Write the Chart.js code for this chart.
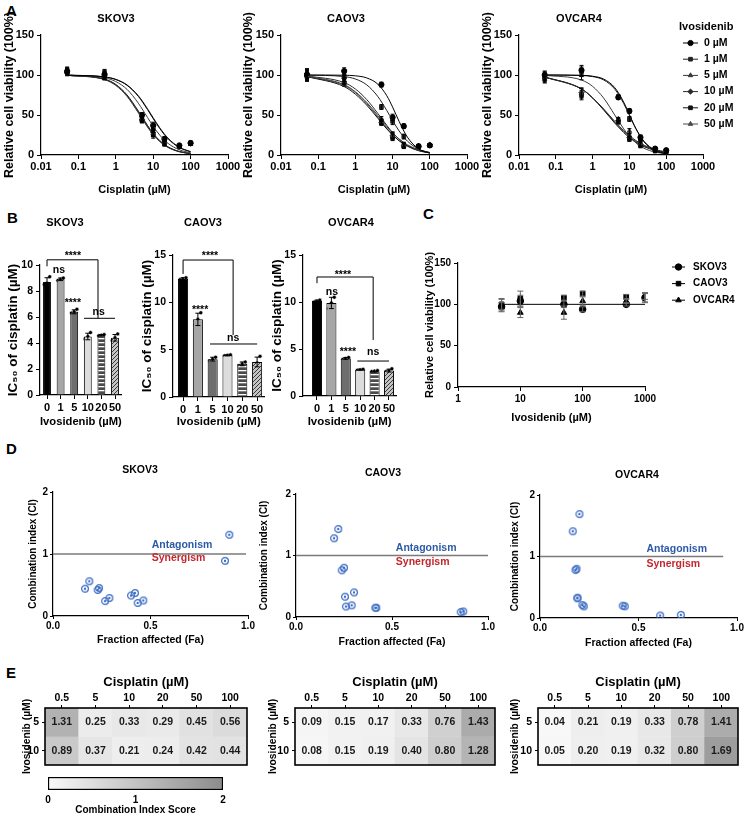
<!DOCTYPE html>
<html>
<head>
<meta charset="utf-8">
<title>Ivosidenib and cisplatin</title>
<script src="https://cdn.jsdelivr.net/npm/chart.js@4.4.1/dist/chart.umd.min.js"></script>
<style>
  html, body { margin: 0; padding: 0; background: #fff; }
  body { position: relative; width: 746px; height: 817px; overflow: hidden; font-family: 'Liberation Sans', 'DejaVu Sans', sans-serif; }
  canvas { position: absolute; }
  .tag { position: absolute; font-weight: bold; font-size: 15px; line-height: 15px; }
</style>
</head>
<body>
<div class="tag" style="left:6px;top:3px">A</div>
<div class="tag" style="left:7px;top:210px">B</div>
<div class="tag" style="left:423px;top:206px">C</div>
<div class="tag" style="left:6px;top:441px">D</div>
<div class="tag" style="left:6px;top:665px">E</div>

<canvas id="a1"></canvas><canvas id="a2"></canvas><canvas id="a3"></canvas>
<canvas id="b1"></canvas><canvas id="b2"></canvas><canvas id="b3"></canvas>
<canvas id="c1"></canvas>
<canvas id="d1"></canvas><canvas id="d2"></canvas><canvas id="d3"></canvas>
<canvas id="e1"></canvas><canvas id="e2"></canvas><canvas id="e3"></canvas>
<canvas id="ebar"></canvas>

<script>
// ---------- data ----------
const doseLabels = ['0', '1', '5', '10', '20', '50'];        // ivosidenib, µM
const doseX = [0.05, 0.5, 5, 10, 20, 50, 100];              // cisplatin, µM
const fitX = [0.05, 0.5, 1, 2, 4, 7, 10, 15, 25, 50, 100];
const cisTicks = [0.01, 0.1, 1, 10, 100, 1000];

// A - SKOV3 fitted curves (one per ivosidenib dose)
const skovFit0 = [99.9, 97.6, 94.3, 87.1, 73.3, 57.0, 45.5, 33.0, 20.2, 9.3, 4.0];
const skovFit1 = [99.9, 97.7, 94.6, 87.6, 74.1, 58.0, 46.6, 34.0, 21.0, 9.7, 4.2];
const skovFit5 = [99.8, 96.5, 91.8, 82.0, 64.8, 47.1, 35.9, 24.8, 14.5, 6.5, 2.7];
const skovFit10 = [99.7, 94.6, 87.6, 74.2, 53.8, 36.0, 26.1, 17.3, 9.7, 4.2, 1.7];
const skovFit20 = [99.7, 94.9, 88.2, 75.0, 55.0, 37.2, 27.0, 18.0, 10.2, 4.4, 1.8];
const skovFit50 = [99.6, 94.2, 86.9, 73.2, 52.6, 35.0, 25.3, 16.7, 9.3, 4.0, 1.6];
const skovPts0 = [104, 101, 50, 37, 20, 12, 15];
const skovPts1 = [105, 100, 48, 35, 19, 11, 15];
const skovPts5 = [103, 102, 46, 32, 17, 11, 14];
const skovPts10 = [106, 99, 44, 28, 15, 10, 14];
const skovPts20 = [104, 100, 43, 25, 14, 11, 15];
const skovPts50 = [105, 99, 45, 27, 16, 10, 14];
const skovErr = [4, 5, 3, 4, 3, 1, 2];

// A - CAOV3
const caovFit0 = [100, 99.7, 99.0, 96.4, 88.6, 74.0, 59.9, 41.9, 22.3, 7.6, 2.3];
const caovFit1 = [99.9, 98.0, 95.0, 87.8, 73.2, 55.5, 43.1, 30.0, 17.4, 7.4, 2.9];
const caovFit5 = [98.5, 88.0, 79.0, 66.0, 49.5, 35.5, 27.5, 20.0, 12.8, 6.5, 3.2];
const caovFit10 = [99.0, 90.5, 82.5, 69.5, 52.0, 37.0, 28.0, 19.8, 12.0, 5.8, 2.8];
const caovFit20 = [98.0, 85.5, 76.0, 62.5, 46.0, 32.5, 25.0, 17.8, 11.2, 5.6, 2.7];
const caovFit50 = [98.3, 87.0, 78.0, 64.5, 47.5, 33.5, 25.5, 17.8, 11.0, 5.3, 2.5];
const caovPts0 = [100, 105, 88, 47, 36, 11, 12];
const caovPts1 = [101, 98, 60, 42, 23, 11, 12];
const caovPts5 = [99, 93, 45, 25, 13, 11, 12];
const caovPts10 = [102, 96, 41, 24, 12, 11, 13];
const caovPts20 = [98, 90, 40, 22, 11, 10, 12];
const caovPts50 = [100, 92, 42, 23, 12, 11, 12];
const caovErr = [6, 4, 3, 4, 3, 1, 1];

// A - OVCAR4
const ovFit0 = [100, 99.6, 98.5, 94.9, 84.2, 66.0, 50.5, 32.9, 16.4, 5.3, 1.6];
const ovFit1 = [100, 99.4, 98.0, 93.8, 82.4, 64.3, 49.6, 33.1, 17.2, 6.0, 1.9];
const ovFit5 = [99.7, 93.7, 85.8, 71.1, 50.0, 32.6, 23.3, 15.2, 8.4, 3.6, 1.5];
const ovFit10 = [97.4, 82.5, 71.6, 57.5, 42.1, 30.5, 24.1, 18.1, 12.2, 6.9, 3.8];
const ovFit20 = [97.7, 82.7, 71.3, 56.2, 39.9, 28.1, 21.7, 15.9, 10.4, 5.7, 3.0];
const ovFit50 = [97.5, 82.5, 71.4, 56.9, 41.0, 29.4, 23.0, 17.1, 11.4, 6.4, 3.5];
const ovPts0 = [100, 106, 72, 55, 22, 8, 6];
const ovPts1 = [99, 104, 73, 45, 20, 7, 5];
const ovPts5 = [98, 100, 45, 30, 15, 6, 5];
const ovPts10 = [96, 78, 43, 22, 13, 6, 4];
const ovPts20 = [97, 75, 41, 20, 12, 5, 4];
const ovPts50 = [95, 77, 44, 24, 14, 6, 5];
const ovErr = [5, 6, 2, 3, 3, 2, 2];

// B - IC50 of cisplatin (µM), means and triplicates
const icSkov = [8.7, 8.9, 6.4, 4.5, 4.6, 4.4];
const icSkovRep = [[8.5, 8.6, 9.1], [8.8, 8.9, 9.0], [6.3, 6.4, 6.6], [4.3, 4.5, 4.8], [4.55, 4.6, 4.65], [4.2, 4.4, 4.7]];
const icCaov = [12.5, 8.2, 4.0, 4.4, 3.5, 3.7];
const icCaovRep = [[12.4, 12.5, 12.6], [7.6, 8.2, 8.9], [3.8, 4.0, 4.2], [4.35, 4.4, 4.45], [3.3, 3.5, 3.7], [3.3, 3.6, 4.3]];
const icOv = [10.1, 9.9, 4.0, 2.8, 2.6, 2.7];
const icOvRep = [[10.0, 10.1, 10.2], [9.3, 9.9, 10.5], [3.9, 4.0, 4.1], [2.75, 2.8, 2.85], [2.6, 2.65, 2.7], [2.6, 2.7, 2.9]];

// C - ivosidenib alone
const ivoX = [5, 10, 50, 100, 500, 1000];
const ivoTicks = [1, 10, 100, 1000];
const cFitX = [5, 1000];
const cFit = [100, 100];
const cSkov = [97, 104, 100, 94, 100, 108];
const cSkovErr = [5, 7, 4, 3, 2, 5];
const cCaov = [100, 107, 108, 113, 109, 108];
const cCaovErr = [6, 9, 3, 3, 3, 6];
const cOv = [99, 90, 90, 104, 104, 110];
const cOvErr = [8, 6, 8, 5, 3, 4];
const cellLines = ['SKOV3', 'CAOV3', 'OVCAR4'];

// D - Fa / CI
const ciRef = [1, 1];
const dSkovFa = [0.904, 0.882, 0.186, 0.164, 0.229, 0.236, 0.267, 0.289, 0.40, 0.42, 0.434, 0.463];
const dSkovCI = [1.31, 0.89, 0.56, 0.44, 0.42, 0.45, 0.24, 0.29, 0.33, 0.37, 0.21, 0.25];
const dSkovLine = [0, 0.99];
const dCaovFa = [0.22, 0.198, 0.238, 0.25, 0.255, 0.302, 0.26, 0.29, 0.413, 0.418, 0.858, 0.871];
const dCaovCI = [1.43, 1.28, 0.76, 0.80, 0.33, 0.40, 0.17, 0.19, 0.15, 0.15, 0.08, 0.09];
const dCaovLine = [0, 1.0];
const dOvFa = [0.2, 0.166, 0.18, 0.185, 0.19, 0.19, 0.215, 0.222, 0.42, 0.43, 0.61, 0.715];
const dOvCI = [1.69, 1.41, 0.78, 0.80, 0.33, 0.32, 0.21, 0.19, 0.20, 0.19, 0.04, 0.05];
const dOvLine = [0, 0.93];

// E - CI heatmaps
const cisLabels = ['0.5', '5', '10', '20', '50', '100'];
const ivoRows = ['5', '10'];
const eSkov5 = [1.31, 0.25, 0.33, 0.29, 0.45, 0.56];
const eSkov10 = [0.89, 0.37, 0.21, 0.24, 0.42, 0.44];
const eCaov5 = [0.09, 0.15, 0.17, 0.33, 0.76, 1.43];
const eCaov10 = [0.08, 0.15, 0.19, 0.40, 0.80, 1.28];
const eOv5 = [0.04, 0.21, 0.19, 0.33, 0.78, 1.41];
const eOv10 = [0.05, 0.20, 0.19, 0.32, 0.80, 1.69];
const ciScale = [0, 2];
const ciTicks = [0, 1, 2];

// ---------- styling helpers ----------
const FONT = "'Liberation Sans', 'DejaVu Sans', sans-serif";
const f = size => ({ family: FONT, size, weight: 'bold', lineHeight: 1.2 });
Chart.defaults.font.family = FONT;
Chart.defaults.font.weight = 'bold';
Chart.defaults.color = '#000';
Chart.defaults.plugins.legend.display = false;
Chart.defaults.plugins.tooltip.enabled = false;

const doseColors = ['#000', '#222', '#3a3a3a', '#2a2a2a', '#111', '#4a4a4a'];
const doseShapes = ['circle', 'rect', 'triangle', 'rectRot', 'rect', 'triangle'];
const lineShapes = ['circle', 'rect', 'triangle'];
const shade = v => { const c = Math.round(250 - v * 55); return `rgb(${c},${c},${c})`; };
const sd = a => { const m = a.reduce((s, v) => s + v, 0) / a.length; return Math.sqrt(a.reduce((s, v) => s + (v - m) ** 2, 0) / (a.length - 1)); };

function hatch(bg, fg, kind) {
  const c = document.createElement('canvas');
  c.width = 4; c.height = 4;
  const g = c.getContext('2d');
  g.fillStyle = bg; g.fillRect(0, 0, 4, 4);
  g.fillStyle = fg;
  if (kind === 'h') g.fillRect(0, 2, 4, 1.3);
  else for (let i = 0; i < 4; i++) g.fillRect(i, 3 - i, 1, 1);
  return g.createPattern(c, 'repeat');
}
const barFills = ['#000', '#a6a6a6', '#6e6e6e', '#dcdcdc', hatch('#4a4a4a', '#fff', 'h'), hatch('#c4c4c4', '#3a3a3a', 'd')];

function ringDot(color) {
  const c = document.createElement('canvas');
  c.width = 10; c.height = 10;
  const g = c.getContext('2d');
  g.strokeStyle = color; g.lineWidth = 1.2;
  g.beginPath(); g.arc(5, 5, 3.4, 0, Math.PI * 2); g.stroke();
  g.fillStyle = color;
  g.beginPath(); g.arc(5, 5, 1.2, 0, Math.PI * 2); g.fill();
  return c;
}
const ciDot = ringDot('#3c6cc4');

function axis(extra) {
  return Object.assign({
    grid: { display: true, drawOnChartArea: false, drawTicks: true, tickLength: 4, color: '#000', lineWidth: 1, offset: false },
    border: { display: true, color: '#000', width: 1.2 }
  }, extra);
}

// ---------- plugins ----------
const errorBars = {
  id: 'errorBars',
  afterDatasetsDraw(chart) {
    const ctx = chart.ctx;
    chart.data.datasets.forEach((ds, i) => {
      if (!ds.errs) return;
      const meta = chart.getDatasetMeta(i), ys = chart.scales[meta.yAxisID], cap = ds.errCap || 2;
      ctx.save();
      ctx.strokeStyle = ds.errColor || '#000';
      ctx.lineWidth = 1;
      ctx.beginPath();
      meta.data.forEach((el, j) => {
        const e = ds.errs[j], v = ds.data[j].y;
        if (!e) return;
        const t = ys.getPixelForValue(v + e), b = ys.getPixelForValue(v - e);
        ctx.moveTo(el.x, t); ctx.lineTo(el.x, b);
        ctx.moveTo(el.x - cap, t); ctx.lineTo(el.x + cap, t);
        ctx.moveTo(el.x - cap, b); ctx.lineTo(el.x + cap, b);
      });
      ctx.stroke();
      ctx.restore();
    });
  }
};
Chart.register(errorBars);

function heading(h, box) {
  return {
    id: 'heading',
    afterDraw(chart) {
      const c = chart.ctx;
      c.save();
      c.font = `bold ${h.size}px ${FONT}`;
      c.fillStyle = '#000'; c.textAlign = 'center'; c.textBaseline = 'middle';
      c.fillText(h.text, h.x - box.x, h.y - box.y);
      c.restore();
    }
  };
}

function sideLegend(spec, box) {
  return {
    id: 'sideLegend',
    afterDraw(chart) {
      const c = chart.ctx;
      c.save();
      c.textAlign = 'left'; c.textBaseline = 'middle';
      if (spec.title) {
        c.font = `bold ${spec.titleSize}px ${FONT}`; c.fillStyle = '#000';
        c.fillText(spec.title, spec.titleX - box.x, spec.titleY - box.y);
      }
      c.font = `bold ${spec.size}px ${FONT}`;
      spec.items.forEach((it, k) => {
        const y = spec.y0 + k * spec.dy - box.y;
        c.strokeStyle = it.color; c.fillStyle = it.color; c.lineWidth = 1;
        c.beginPath(); c.moveTo(spec.x1 - box.x, y); c.lineTo(spec.x2 - box.x, y); c.stroke();
        Chart.helpers.drawPoint(c, { pointStyle: it.shape, radius: spec.r, borderWidth: 1, rotation: 0 }, (spec.x1 + spec.x2) / 2 - box.x, y);
        c.fillStyle = '#000';
        c.fillText(it.label, spec.tx - box.x, y);
      });
      c.restore();
    }
  };
}

function sigMarks(spec) {
  return {
    id: 'sigMarks',
    afterDatasetsDraw(chart) {
      const { ctx, scales: { x, y } } = chart;
      const px = v => x.getPixelForValue(v), py = v => y.getPixelForValue(v);
      ctx.save();
      ctx.strokeStyle = '#000'; ctx.lineWidth = 1;
      const b = spec.bracket;
      ctx.beginPath();
      ctx.moveTo(px(b.x1), py(b.y1)); ctx.lineTo(px(b.x1), py(b.y));
      ctx.lineTo(px(b.x2), py(b.y)); ctx.lineTo(px(b.x2), py(b.y2));
      spec.lines.forEach(l => { ctx.moveTo(px(l.x1), py(l.y)); ctx.lineTo(px(l.x2), py(l.y)); });
      ctx.stroke();
      ctx.font = `bold 10.5px ${FONT}`;
      ctx.textAlign = 'center'; ctx.textBaseline = 'middle'; ctx.fillStyle = '#000';
      spec.texts.forEach(t => ctx.fillText(t.t, px(t.x), py(t.y) + (t.t[0] === '*' ? 3 : 0)));
      ctx.restore();
    }
  };
}

function notes(list) {
  return {
    id: 'notes',
    afterDatasetsDraw(chart) {
      const { ctx, scales: { x, y } } = chart;
      ctx.save();
      list.forEach(n => {
        ctx.font = `bold ${n.size}px ${FONT}`;
        ctx.fillStyle = n.color; ctx.textAlign = 'left'; ctx.textBaseline = 'middle';
        ctx.fillText(n.t, x.getPixelForValue(n.x), y.getPixelForValue(n.y));
      });
      ctx.restore();
    }
  };
}

const cellText = {
  id: 'cellText',
  afterDatasetsDraw(chart) {
    const ctx = chart.ctx, a = chart.chartArea;
    ctx.save();
    ctx.font = `bold 10.5px ${FONT}`;
    ctx.fillStyle = '#1a1a1a'; ctx.textAlign = 'center'; ctx.textBaseline = 'middle';
    chart.data.datasets.forEach((ds, i) => {
      chart.getDatasetMeta(i).data.forEach((el, j) => ctx.fillText(ds.vals[j].toFixed(2), el.x, (el.y + el.base) / 2));
    });
    ctx.strokeStyle = '#000'; ctx.lineWidth = 1.6;
    ctx.strokeRect(a.left, a.top, a.right - a.left, a.bottom - a.top);
    ctx.restore();
  }
};

// ---------- layout helper: canvas box + exact plot rectangle (page px) ----------
function build(id, box, plot, cfg, t) {
  const cv = document.getElementById(id);
  cv.style.left = box.x + 'px'; cv.style.top = box.y + 'px';
  cv.width = box.w; cv.height = box.h;
  const o = cfg.options, sx = o.scales.x, sy = o.scales.y;
  const top = sx.position === 'top';
  o.responsive = false; o.animation = false; o.devicePixelRatio = 1;
  o.layout = { padding: {
    left: sy.display === false ? plot.l - box.x : 0,
    right: box.x + box.w - plot.r,
    top: top ? 0 : plot.t - box.y,
    bottom: top ? box.y + box.h - plot.b : 0
  } };
  if (sy.display !== false) sy.afterFit = s => { s.width = plot.l - box.x; };
  sx.afterFit = s => { s.height = top ? plot.t - box.y : box.y + box.h - plot.b; };
  if (t.y) {
    const lh = t.y.size * 1.2;
    sy.title = { display: true, text: t.y.text, font: f(t.y.size), color: '#000', padding: { top: t.y.at - box.x - lh / 2, bottom: 0 } };
  }
  if (t.x) {
    const lh = t.x.size * 1.2;
    sx.title = { display: true, text: t.x.text, font: f(t.x.size), color: '#000',
      padding: top ? { top: t.x.at - box.y - lh / 2, bottom: 0 } : { top: 0, bottom: box.y + box.h - t.x.at - lh / 2 } };
  }
  cfg.plugins = cfg.plugins || [];
  if (t.head) cfg.plugins.push(heading(t.head, box));
  return new Chart(cv, cfg);
}

// ---------- A: dose-response ----------
function doseConfig(fits, pts, errs) {
  const datasets = [];
  fits.forEach((fit, k) => datasets.push({
    type: 'line', data: fitX.map((x, i) => ({ x, y: fit[i] })),
    borderColor: doseColors[k], borderWidth: 1, pointRadius: 0, cubicInterpolationMode: 'monotone'
  }));
  pts.forEach((p, k) => datasets.push({
    type: 'scatter', data: doseX.map((x, i) => ({ x, y: p[i] })),
    pointStyle: doseShapes[k], pointRadius: 2.6, backgroundColor: doseColors[k], borderColor: doseColors[k], errs, errCap: 2
  }));
  return { type: 'scatter', data: { datasets }, options: { scales: {
    x: axis({ type: 'logarithmic', min: 0.01, max: 1000,
      afterBuildTicks: s => { s.ticks = cisTicks.map(value => ({ value })); },
      ticks: { font: f(11), padding: 1, autoSkip: false, maxRotation: 0, callback: v => String(v) } }),
    y: axis({ min: 0, max: 150, ticks: { stepSize: 50, font: f(11), padding: 3 } })
  } } };
}
const yA = at => ({ text: 'Relative cell viability (100%)', size: 12.5, at });
const xA = { text: 'Cisplatin (µM)', size: 11, at: 190 };

const boxA1 = { x: 0, y: 8, w: 250, h: 194 };
build('a1', boxA1, { l: 41, t: 35, r: 228, b: 155 },
  doseConfig([skovFit0, skovFit1, skovFit5, skovFit10, skovFit20, skovFit50],
             [skovPts0, skovPts1, skovPts5, skovPts10, skovPts20, skovPts50], skovErr),
  { head: { text: 'SKOV3', x: 116, y: 19, size: 11 }, y: yA(10), x: xA });

const boxA2 = { x: 240, y: 8, w: 250, h: 194 };
build('a2', boxA2, { l: 281, t: 35, r: 467, b: 155 },
  doseConfig([caovFit0, caovFit1, caovFit5, caovFit10, caovFit20, caovFit50],
             [caovPts0, caovPts1, caovPts5, caovPts10, caovPts20, caovPts50], caovErr),
  { head: { text: 'CAOV3', x: 346, y: 19, size: 11 }, y: yA(249), x: xA });

const boxA3 = { x: 480, y: 8, w: 266, h: 194 };
const cfgA3 = doseConfig([ovFit0, ovFit1, ovFit5, ovFit10, ovFit20, ovFit50],
                         [ovPts0, ovPts1, ovPts5, ovPts10, ovPts20, ovPts50], ovErr);
cfgA3.plugins = [sideLegend({
  title: 'Ivosidenib', titleSize: 11, titleX: 679, titleY: 27, size: 10.5,
  x1: 683, x2: 698, tx: 704, y0: 43, dy: 16.2, r: 2.6,
  items: doseLabels.map((d, k) => ({ label: d + ' µM', shape: doseShapes[k], color: doseColors[k] }))
}, boxA3)];
build('a3', boxA3, { l: 519, t: 35, r: 703, b: 155 }, cfgA3,
  { head: { text: 'OVCAR4', x: 579, y: 19, size: 11 }, y: yA(488), x: xA });

// ---------- B: IC50 bars ----------
function icConfig(means, reps, yMax, yStep, xMin, barPct, sig) {
  return {
    type: 'bar',
    data: { datasets: [
      { type: 'bar', data: means.map((y, i) => ({ x: i, y })), backgroundColor: barFills, borderColor: '#000', borderWidth: 1,
        barPercentage: barPct, categoryPercentage: 1, errs: reps.map(sd), errCap: 2.5 },
      { type: 'scatter', data: reps.flatMap((r, i) => r.map((y, k) => ({ x: i + (k - 1) * 0.2, y }))),
        pointRadius: 2, backgroundColor: '#000', borderColor: '#fff', borderWidth: 0.6 }
    ] },
    options: { scales: {
      x: axis({ type: 'linear', min: xMin, max: 5.5, offset: false,
        afterBuildTicks: s => { s.ticks = doseLabels.map((_, i) => ({ value: i })); },
        ticks: { font: f(11), padding: 2, autoSkip: false, maxRotation: 0, callback: (v, i) => doseLabels[i] } }),
      y: axis({ min: 0, max: yMax, ticks: { stepSize: yStep, font: f(10.5), padding: 3 } })
    } },
    plugins: [sigMarks(sig)]
  };
}
const yB = at => ({ text: 'IC₅₀ of cisplatin (µM)', size: 13.5, at });
const xB = { text: 'Ivosidenib (µM)', size: 11.5, at: 422 };

build('b1', { x: 0, y: 212, w: 135, h: 220 }, { l: 40, t: 265, r: 121.8, b: 395 },
  icConfig(icSkov, icSkovRep, 10, 2, -0.515, 0.58, {
    bracket: { x1: 0, x2: 3.75, y: 10.4, y1: 9.9, y2: 5.9 },
    lines: [{ x1: 2.72, x2: 5.0, y: 5.9 }],
    texts: [{ x: 1.9, y: 10.9, t: '****' }, { x: 0.88, y: 9.6, t: 'ns' }, { x: 1.9, y: 7.3, t: '****' }, { x: 3.8, y: 6.4, t: 'ns' }]
  }),
  { head: { text: 'SKOV3', x: 65, y: 223, size: 11 }, y: yB(13), x: xB });

build('b2', { x: 135, y: 212, w: 140, h: 220 }, { l: 173, t: 255, r: 264.5, b: 397 },
  icConfig(icCaov, icCaovRep, 15, 5, -0.68, 0.68, {
    bracket: { x1: 0, x2: 3.38, y: 14.47, y1: 13.0, y2: 6.55 },
    lines: [{ x1: 1.82, x2: 5.0, y: 5.6 }],
    texts: [{ x: 1.82, y: 15.2, t: '****' }, { x: 1.15, y: 9.5, t: '****' }, { x: 3.38, y: 6.2, t: 'ns' }]
  }),
  { head: { text: 'CAOV3', x: 203, y: 223, size: 11 }, y: yB(147), x: xB });

build('b3', { x: 265, y: 212, w: 150, h: 220 }, { l: 303, t: 255, r: 396.2, b: 396 },
  icConfig(icOv, icOvRep, 15, 5, -0.972, 0.7, {
    bracket: { x1: 0, x2: 3.9, y: 12.66, y1: 12.0, y2: 5.96 },
    lines: [{ x1: 2.8, x2: 5.0, y: 3.72 }],
    texts: [{ x: 1.8, y: 13.2, t: '****' }, { x: 1.04, y: 11.1, t: 'ns' }, { x: 2.15, y: 5.0, t: '****' }, { x: 3.9, y: 4.7, t: 'ns' }]
  }),
  { head: { text: 'OVCAR4', x: 351, y: 223, size: 11 }, y: yB(277), x: xB });

// ---------- C: ivosidenib alone ----------
const boxC = { x: 415, y: 205, w: 331, h: 225 };
const cSeries = [[cSkov, cSkovErr], [cCaov, cCaovErr], [cOv, cOvErr]];
build('c1', boxC, { l: 458, t: 263, r: 645, b: 387 }, {
  type: 'scatter',
  data: { datasets: [
    { type: 'line', data: cFitX.map((x, i) => ({ x, y: cFit[i] })), borderColor: '#000', borderWidth: 1, pointRadius: 0 },
    ...cSeries.map(([vals, errs], k) => ({
      data: ivoX.map((x, i) => ({ x, y: vals[i] })), pointStyle: lineShapes[k], pointRadius: 3.3,
      backgroundColor: '#000', borderColor: '#000', errs, errCap: 3, errColor: '#666'
    }))
  ] },
  options: { scales: {
    x: axis({ type: 'logarithmic', min: 1, max: 1000,
      afterBuildTicks: s => { s.ticks = ivoTicks.map(value => ({ value })); },
      ticks: { font: f(10), padding: 2, autoSkip: false, maxRotation: 0, callback: v => String(v) } }),
    y: axis({ min: 0, max: 150, ticks: { stepSize: 50, font: f(10), padding: 3 } })
  } },
  plugins: [sideLegend({
    size: 10, x1: 672, x2: 685, tx: 693, y0: 267, dy: 16.6, r: 3.2,
    items: cellLines.map((l, k) => ({ label: l, shape: lineShapes[k], color: '#000' }))
  }, boxC)]
}, { y: { text: 'Relative cell viability (100%)', size: 11, at: 430 }, x: { text: 'Ivosidenib (µM)', size: 11, at: 418 } });

// ---------- D: Fa-CI plots ----------
function ciConfig(fa, ci, lineX, noteX, antY, synY) {
  return {
    type: 'scatter',
    data: { datasets: [
      { type: 'line', data: lineX.map((x, i) => ({ x, y: ciRef[i] })), borderColor: '#7a7a7a', borderWidth: 1.3, pointRadius: 0 },
      { data: fa.map((x, i) => ({ x, y: ci[i] })), pointStyle: ciDot, pointRadius: 5 }
    ] },
    options: { scales: {
      x: axis({ min: 0, max: 1, grid: { display: true, drawOnChartArea: false, tickLength: 3, color: '#000', offset: false },
        ticks: { stepSize: 0.5, font: f(10), padding: 1, callback: v => v.toFixed(1) } }),
      y: axis({ min: 0, max: 2, grid: { display: true, drawOnChartArea: false, tickLength: 3, color: '#000', offset: false },
        ticks: { stepSize: 1, font: f(10), padding: 2 } })
    } },
    plugins: [notes([
      { t: 'Antagonism', x: noteX, y: antY, size: 10.5, color: '#2d5ba8' },
      { t: 'Synergism', x: noteX, y: synY, size: 10.5, color: '#c4262e' }
    ])]
  };
}
const yD = at => ({ text: 'Combination index (CI)', size: 10, at });
const xD = at => ({ text: 'Fraction affected (Fa)', size: 10.5, at });

build('d1', { x: 0, y: 462, w: 262, h: 188 }, { l: 53, t: 492, r: 248, b: 616 },
  ciConfig(dSkovFa, dSkovCI, dSkovLine, 0.506, 1.145, 0.935),
  { head: { text: 'SKOV3', x: 140, y: 470, size: 10.5 }, y: yD(33), x: xD(640) });
build('d2', { x: 250, y: 462, w: 255, h: 188 }, { l: 296, t: 494, r: 488, b: 617 },
  ciConfig(dCaovFa, dCaovCI, dCaovLine, 0.52, 1.12, 0.89),
  { head: { text: 'CAOV3', x: 383, y: 473, size: 10.5 }, y: yD(264), x: xD(642) });
build('d3', { x: 495, y: 462, w: 251, h: 188 }, { l: 540, t: 495, r: 737, b: 618 },
  ciConfig(dOvFa, dOvCI, dOvLine, 0.54, 1.12, 0.88),
  { head: { text: 'OVCAR4', x: 637, y: 475, size: 10.5 }, y: yD(515), x: xD(643) });

// ---------- E: CI heatmaps ----------
function heatConfig(rows) {
  return {
    type: 'bar',
    data: { labels: cisLabels, datasets: rows.map((vals, r) => ({
      data: vals.map(() => [ivoRows.length - 1 - r, ivoRows.length - r]), vals,
      backgroundColor: vals.map(shade), borderWidth: 0, grouped: false, barPercentage: 1, categoryPercentage: 1
    })) },
    options: { scales: {
      x: axis({ position: 'top', border: { display: false },
        grid: { display: true, drawOnChartArea: false, tickLength: 3, color: '#000', offset: false },
        ticks: { font: f(10.5), padding: 1, autoSkip: false, maxRotation: 0 } }),
      y: axis({ min: 0, max: 2, border: { display: false },
        grid: { display: true, drawOnChartArea: false, tickLength: 3, color: '#000', offset: false },
        afterBuildTicks: s => { s.ticks = ivoRows.map((_, r) => ({ value: ivoRows.length - 0.5 - r })); },
        ticks: { font: f(10.5), padding: 3, callback: (v, i) => ivoRows[i] } })
    } },
    plugins: [cellText]
  };
}
const yE = at => ({ text: 'Ivosidenib (µM)', size: 10.3, at });
const xE = { text: 'Cisplatin (µM)', size: 13, at: 682 };

build('e1', { x: 0, y: 668, w: 255, h: 114 }, { l: 45, t: 708, r: 247, b: 765 }, heatConfig([eSkov5, eSkov10]), { y: yE(27), x: xE });
build('e2', { x: 250, y: 668, w: 250, h: 114 }, { l: 295, t: 708, r: 495, b: 765 }, heatConfig([eCaov5, eCaov10]), { y: yE(273), x: xE });
build('e3', { x: 490, y: 668, w: 256, h: 114 }, { l: 538, t: 708, r: 738, b: 765 }, heatConfig([eOv5, eOv10]), { y: yE(515), x: xE });

// colour bar
build('ebar', { x: 0, y: 770, w: 250, h: 47 }, { l: 48, t: 777, r: 223, b: 790 }, {
  type: 'bar',
  data: { labels: [''], datasets: [{
    data: [ciScale], borderColor: '#000', borderWidth: 1.5, borderSkipped: false, barPercentage: 1, categoryPercentage: 1,
    backgroundColor: c => {
      const a = c.chart.chartArea;
      if (!a) return '#ccc';
      const g = c.chart.ctx.createLinearGradient(a.left, 0, a.right, 0);
      g.addColorStop(0, shade(ciScale[0])); g.addColorStop(1, shade(ciScale[1]));
      return g;
    }
  }] },
  options: { indexAxis: 'y', scales: {
    x: { type: 'linear', min: ciScale[0], max: ciScale[1], grid: { display: false, drawTicks: false }, border: { display: false },
      afterBuildTicks: s => { s.ticks = ciTicks.map(value => ({ value })); },
      ticks: { font: f(10), padding: 4 } },
    y: { display: false }
  } }
}, { x: { text: 'Combination Index Score', size: 10, at: 810 } });
</script>
</body>
</html>
